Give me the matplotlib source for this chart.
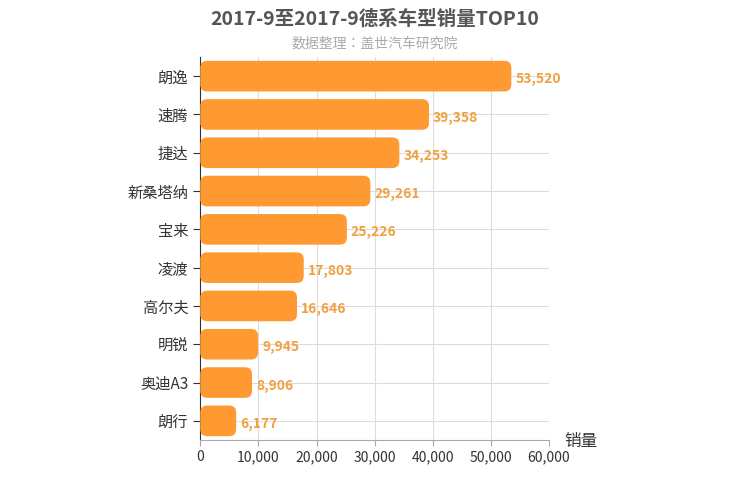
import matplotlib
matplotlib.use("Agg")
import matplotlib.pyplot as plt
from matplotlib import font_manager
from matplotlib.patches import FancyBboxPatch

cjk = [f.name for f in font_manager.fontManager.ttflist if "CJK" in f.name]
plt.rcParams["font.family"] = (["Noto Sans CJK SC"] if "Noto Sans CJK SC" in cjk else cjk[:1]) + ["DejaVu Sans"]

models = ["朗逸", "速腾", "捷达", "新桑塔纳", "宝来", "凌渡", "高尔夫", "明锐", "奥迪A3", "朗行"]
sales = [53520, 39358, 34253, 29261, 25226, 17803, 16646, 9945, 8906, 6177]
xticks = [0, 10000, 20000, 30000, 40000, 50000, 60000]

fig = plt.figure(figsize=(7.5, 5), dpi=100)
ax = fig.add_axes([0.267, 0.12, 0.465, 0.766])
ax.set_xlim(0, 60000)
ax.set_ylim(len(models) - 0.5, -0.5)

# pixel -> data ratio so corners stay round
xpp = 60000 / 349
ypp = len(models) / 383
h = 0.8
for i, (m, v) in enumerate(zip(models, sales)):
    p = FancyBboxPatch((0, i - h / 2), v, h,
                       boxstyle="round,pad=0,rounding_size=%f" % (7 * xpp),
                       mutation_aspect=ypp / xpp,
                       fc="#FF9A33", ec="none", zorder=3)
    ax.add_patch(p)
    ax.text(v + 700, i + 0.08, f"{v:,}", va="center", ha="left",
            color="#F0A040", fontsize=10, fontweight="bold", zorder=4)

ax.set_yticks(range(len(models)))
ax.set_yticklabels(models, fontsize=11, color="#333333")
ax.set_xticks(xticks)
ax.set_xticklabels([f"{t:,}" for t in xticks], fontsize=10, color="#333333")
ax.grid(True, color="#dddddd", lw=0.8, zorder=0)
ax.set_axisbelow(True)
for s in ["top", "right"]:
    ax.spines[s].set_visible(False)
ax.spines["left"].set_color("#333333")
ax.spines["bottom"].set_color("#aaaaaa")
ax.tick_params(axis="y", length=5, color="#333333")
ax.tick_params(axis="x", length=4, color="#aaaaaa")

fig.text(0.5, 0.962, "2017-9至2017-9德系车型销量TOP10", ha="center", va="center",
         fontsize=14, fontweight="bold", color="#555555")
fig.text(0.5, 0.912, "数据整理：盖世汽车研究院", ha="center", va="center",
         fontsize=10, color="#aaaaaa")
fig.text(0.752, 0.117, "销量", ha="left", va="center", fontsize=12, color="#333333")

fig.savefig("out.png", dpi=100)
